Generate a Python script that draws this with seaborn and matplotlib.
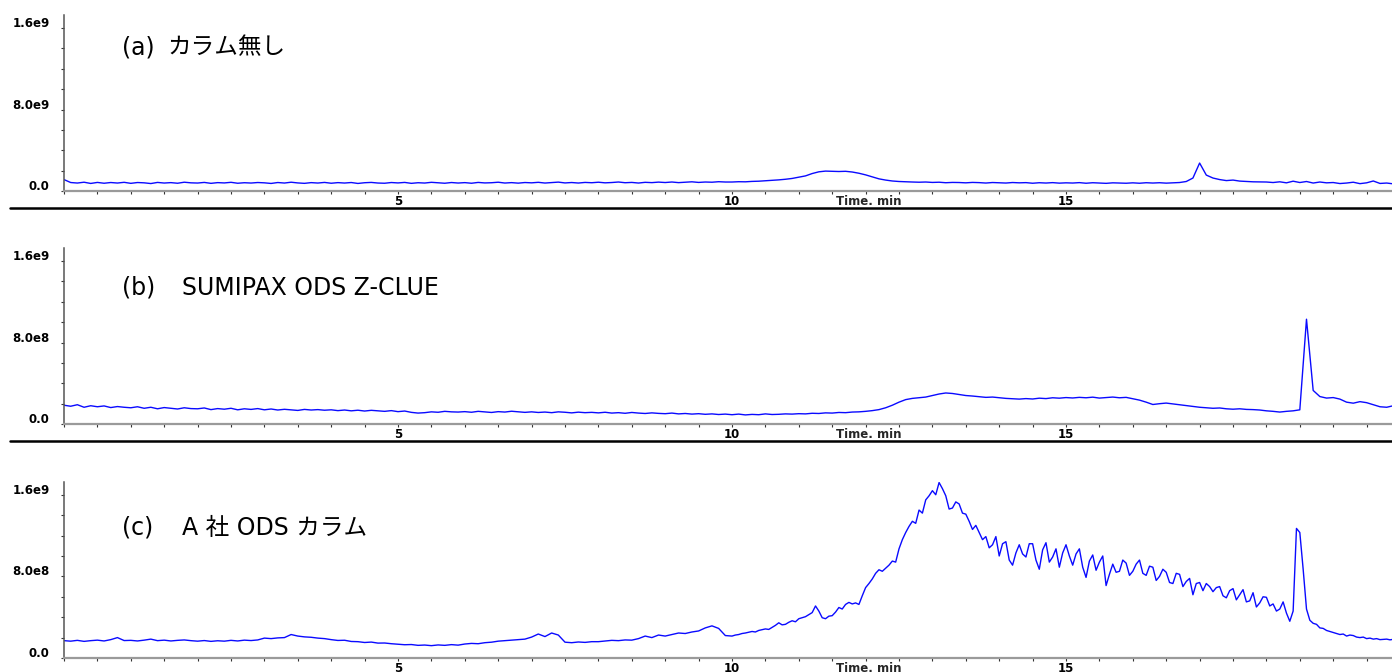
import numpy as np
import pandas as pd
import matplotlib
matplotlib.use("Agg")
import matplotlib.pyplot as plt
from matplotlib.lines import Line2D
from matplotlib.transforms import ScaledTranslation
from matplotlib.ticker import FixedLocator, FixedFormatter, MultipleLocator
import seaborn as sns

# Retention-time sampling: 0.1 min steps from 0.0 to 19.9 min
TIME_STEP = 0.1
N_POINTS = 200
# the A-column trace is sampled at 0.05 min from 10 min onwards
FINE_START = 10.0
FINE_STEP = 0.05
N_FINE = 200

# Detector intensity in units of 1e8 counts, one row per minute
no_column = [
    1.15, 0.86, 0.81, 0.89, 0.77, 0.87, 0.79, 0.86, 0.81, 0.88,
    0.78, 0.86, 0.83, 0.76, 0.87, 0.81, 0.85, 0.79, 0.89, 0.83,
    0.81, 0.87, 0.78, 0.85, 0.82, 0.88, 0.79, 0.84, 0.81, 0.86,
    0.83, 0.77, 0.86, 0.81, 0.89, 0.82, 0.78, 0.85, 0.81, 0.87,
    0.79, 0.85, 0.81, 0.86, 0.77, 0.84, 0.87, 0.81, 0.79, 0.86,
    0.82, 0.87, 0.78, 0.84, 0.81, 0.88, 0.83, 0.79, 0.86, 0.81,
    0.85, 0.79, 0.87, 0.82, 0.84, 0.89, 0.81, 0.85, 0.80, 0.86,
    0.83, 0.88, 0.81, 0.85, 0.90, 0.82, 0.86, 0.81, 0.87, 0.84,
    0.89, 0.83, 0.86, 0.91, 0.84, 0.87, 0.81, 0.88, 0.85, 0.90,
    0.86, 0.91, 0.85, 0.89, 0.93, 0.87, 0.91, 0.89, 0.94, 0.91,
    0.91, 0.94, 0.93, 0.97, 0.99, 1.03, 1.06, 1.12, 1.18, 1.26,
    1.38, 1.51, 1.74, 1.91, 1.98, 1.96, 1.94, 1.96, 1.89, 1.77,
    1.61, 1.42, 1.22, 1.10, 1.01, 0.96, 0.93, 0.91, 0.89, 0.91,
    0.87, 0.89, 0.84, 0.87, 0.86, 0.83, 0.87, 0.85, 0.81, 0.86,
    0.84, 0.81, 0.86, 0.83, 0.85, 0.79, 0.84, 0.81, 0.85, 0.80,
    0.83, 0.81, 0.85, 0.79, 0.84, 0.81, 0.78, 0.83, 0.81, 0.79,
    0.83, 0.79, 0.84, 0.81, 0.84, 0.80, 0.83, 0.86, 0.96, 1.30,
    2.77, 1.59, 1.30, 1.15, 1.05, 1.10, 1.00, 0.96, 0.93, 0.92,
    0.91, 0.86, 0.93, 0.83, 0.99, 0.86, 0.96, 0.81, 0.91, 0.83,
    0.86, 0.76, 0.81, 0.89, 0.75, 0.83, 1.01, 0.77, 0.81, 0.73,
]

sumipax_ods = [
    1.87, 1.77, 1.92, 1.67, 1.82, 1.72, 1.80, 1.64, 1.74, 1.67,
    1.62, 1.72, 1.57, 1.67, 1.52, 1.64, 1.57, 1.50, 1.62, 1.54,
    1.52, 1.60, 1.44, 1.54, 1.48, 1.57, 1.42, 1.52, 1.46, 1.54,
    1.42, 1.50, 1.40, 1.47, 1.42, 1.36, 1.46, 1.40, 1.44, 1.38,
    1.42, 1.34, 1.40, 1.32, 1.38, 1.30, 1.37, 1.32, 1.27, 1.34,
    1.24, 1.30, 1.17, 1.10, 1.14, 1.22, 1.18, 1.27, 1.22, 1.20,
    1.24, 1.18, 1.27, 1.22, 1.16, 1.24, 1.20, 1.28, 1.22, 1.17,
    1.22, 1.16, 1.20, 1.14, 1.22, 1.18, 1.12, 1.19, 1.14, 1.17,
    1.12, 1.18, 1.10, 1.14, 1.08, 1.16, 1.10, 1.06, 1.12, 1.07,
    1.04, 1.10, 1.02, 1.06, 1.00, 1.04, 0.98, 1.02, 0.96, 1.00,
    0.94, 1.00, 0.92, 0.97, 0.94, 1.02, 0.96, 0.98, 1.02, 1.00,
    1.04, 1.02, 1.08, 1.06, 1.12, 1.10, 1.16, 1.14, 1.20, 1.22,
    1.27, 1.34, 1.44, 1.62, 1.87, 2.17, 2.42, 2.54, 2.60, 2.67,
    2.82, 2.97, 3.07, 3.02, 2.92, 2.82, 2.77, 2.70, 2.64, 2.67,
    2.60, 2.54, 2.50, 2.47, 2.52, 2.48, 2.56, 2.52, 2.60, 2.56,
    2.62, 2.58, 2.64, 2.60, 2.66, 2.57, 2.62, 2.67, 2.60, 2.64,
    2.50, 2.37, 2.17, 1.94, 2.02, 2.08, 2.00, 1.92, 1.84, 1.77,
    1.67, 1.62, 1.57, 1.60, 1.52, 1.48, 1.52, 1.46, 1.44, 1.40,
    1.32, 1.27, 1.20, 1.27, 1.32, 1.42, 10.30, 3.32, 2.72, 2.57,
    2.62, 2.47, 2.17, 2.07, 2.22, 2.12, 1.92, 1.72, 1.67, 1.82,
]

# A-column trace, 0.0-9.9 min (0.1 min steps)
company_a_ods_early = [
    1.70, 1.65, 1.73, 1.63, 1.70, 1.75, 1.67, 1.80, 2.00, 1.71,
    1.73, 1.67, 1.75, 1.85, 1.70, 1.75, 1.67, 1.73, 1.77, 1.70,
    1.65, 1.71, 1.63, 1.69, 1.65, 1.73, 1.67, 1.75, 1.71, 1.77,
    1.95, 1.90, 1.97, 2.00, 2.30, 2.15, 2.07, 2.03, 1.95, 1.90,
    1.80, 1.72, 1.74, 1.62, 1.60, 1.52, 1.56, 1.46, 1.47, 1.40,
    1.35, 1.30, 1.32, 1.24, 1.27, 1.21, 1.28, 1.24, 1.31, 1.26,
    1.37, 1.43, 1.40, 1.50, 1.55, 1.65, 1.70, 1.75, 1.80, 1.85,
    2.05, 2.35, 2.10, 2.45, 2.25, 1.55, 1.50, 1.57, 1.53, 1.60,
    1.60, 1.67, 1.73, 1.70, 1.77, 1.75, 1.90, 2.15, 2.00, 2.25,
    2.15, 2.30, 2.45, 2.40, 2.55, 2.65, 2.95, 3.15, 2.90, 2.20,
]

# A-column trace, 10.00-19.95 min (0.05 min steps)
company_a_ods_late = [
    2.15, 2.25, 2.30, 2.40, 2.45, 2.52, 2.60, 2.55, 2.70, 2.78,
    2.85, 2.80, 3.00, 3.20, 3.45, 3.25, 3.30, 3.50, 3.65, 3.55,
    3.85, 3.95, 4.05, 4.25, 4.45, 5.10, 4.60, 3.95, 3.85, 4.10,
    4.15, 4.50, 4.95, 4.80, 5.25, 5.45, 5.30, 5.40, 5.25, 6.10,
    6.90, 7.30, 7.75, 8.30, 8.65, 8.50, 8.80, 9.10, 9.50, 9.40,
    10.70, 11.60, 12.30, 12.90, 13.40, 13.20, 14.50, 14.20, 15.50, 15.90,
    16.40, 16.00, 17.20, 16.60, 15.90, 14.60, 14.70, 15.30, 15.10, 14.20,
    14.10, 13.40, 12.60, 13.00, 12.30, 11.60, 11.90, 10.80, 11.10, 11.90,
    10.00, 11.20, 11.40, 9.60, 9.10, 10.30, 11.10, 10.20, 9.90, 11.20,
    11.20, 9.60, 8.70, 10.60, 11.30, 9.40, 9.90, 10.70, 8.90, 10.30,
    11.10, 10.00, 9.10, 10.20, 10.70, 8.90, 7.90, 9.50, 10.10, 8.60,
    9.40, 10.00, 7.10, 8.20, 9.20, 8.40, 8.50, 9.60, 9.30, 8.10,
    8.50, 9.20, 9.60, 8.30, 8.10, 9.00, 8.90, 7.60, 8.00, 8.70,
    8.40, 7.40, 7.30, 8.30, 8.20, 7.00, 7.50, 7.80, 6.20, 7.30,
    7.40, 6.60, 7.30, 7.00, 6.50, 6.90, 7.00, 6.10, 5.90, 6.60,
    6.80, 5.70, 6.20, 6.70, 5.50, 5.60, 6.40, 5.00, 5.40, 6.00,
    5.95, 5.10, 5.30, 4.60, 4.80, 5.50, 4.40, 3.60, 4.60, 12.70,
    12.30, 8.70, 4.80, 3.70, 3.40, 3.30, 2.95, 2.90, 2.70, 2.60,
    2.50, 2.40, 2.30, 2.35, 2.15, 2.25, 2.20, 2.05, 2.00, 2.05,
    1.90, 1.95, 1.85, 1.90, 1.80, 1.82, 1.85, 1.78, 1.83, 1.80,
]

INTENSITY_UNIT = 1e8

PANEL_LABELS = ["(a)", "(b)", "(c)"]
PANEL_NAMES = ["カラム無し", "SUMIPAX ODS Z-CLUE", "A 社 ODS カラム"]

Y_TICKS = [0.0, 8.0e8, 1.6e9]
Y_TICK_LABELS = [
    ["0.0", "8.0e9", "1.6e9"],
    ["0.0", "8.0e8", "1.6e9"],
    ["0.0", "8.0e8", "1.6e9"],
]
X_TICKS = [5, 10, 15]
X_TICK_LABELS = ["5", "10", "15"]
X_AXIS_LABEL = "Time. min"
X_AXIS_LABEL_AT = 12.05

# ---- layout (pixels on a 1392 x 672 canvas) ----
W, H, DPI = 1392, 672, 100
AX_LEFT_PX = 64
AX_HEIGHT_PX = 176.5
AX_BOTTOM_PX = [191.3, 424.3, 658.0]
XLIM = (0.0, 19.88)
YLIM = (0.0, 1.73e9)
LABEL_X_PX = 122
NAME_X_PX = [167, 182, 182]
TITLE_Y_PX = [47, 288, 528]
TITLE_SIZE = 17
SEPARATOR_Y_PX = [207.5, 441.0]

LINE_COLOR = "#0a0aff"
TICK_FONT = dict(family="DejaVu Sans", weight="bold", size=8.5)

sns.set_style("ticks")
plt.rcParams["font.family"] = ["DejaVu Sans", "Noto Sans CJK JP"]

fig = plt.figure(figsize=(W / DPI, H / DPI), dpi=DPI)
fig.patch.set_facecolor("white")

time_grid = np.round(np.arange(N_POINTS) * TIME_STEP, 2)
time_early = time_grid[: len(company_a_ods_early)]
time_late = np.round(FINE_START + np.arange(N_FINE) * FINE_STEP, 2)

series = [
    (time_grid, np.asarray(no_column)),
    (time_grid, np.asarray(sumipax_ods)),
    (np.concatenate([time_early, time_late]),
     np.asarray(company_a_ods_early + company_a_ods_late)),
]

label_offset = ScaledTranslation(0, 6 / DPI, fig.dpi_scale_trans)

for i, (t, values) in enumerate(series):
    bottom = 1 - AX_BOTTOM_PX[i] / H
    ax = fig.add_axes([AX_LEFT_PX / W, bottom, (W - AX_LEFT_PX) / W, AX_HEIGHT_PX / H])
    ax.set_facecolor("white")

    df = pd.DataFrame({"time": t, "intensity": values * INTENSITY_UNIT})
    sns.lineplot(data=df, x="time", y="intensity", ax=ax, color=LINE_COLOR,
                 linewidth=1.0, errorbar=None, estimator=None, sort=False)

    ax.set_xlim(*XLIM)
    ax.set_ylim(*YLIM)
    ax.set_xlabel("")
    ax.set_ylabel("")

    for side in ("top", "right"):
        ax.spines[side].set_visible(False)
    ax.spines["left"].set_color("#555555")
    ax.spines["left"].set_linewidth(1.1)
    ax.spines["bottom"].set_color("#9a9a9a")
    ax.spines["bottom"].set_linewidth(1.6)

    ax.xaxis.set_major_locator(FixedLocator(X_TICKS))
    ax.xaxis.set_major_formatter(FixedFormatter(X_TICK_LABELS))
    ax.xaxis.set_minor_locator(MultipleLocator(0.5))
    ax.yaxis.set_major_locator(FixedLocator(Y_TICKS))
    ax.yaxis.set_major_formatter(FixedFormatter(Y_TICK_LABELS[i]))
    ax.yaxis.set_minor_locator(MultipleLocator(2e8))

    ax.tick_params(axis="both", which="both", direction="out", length=2.4,
                   width=0.8, color="#333333")
    ax.tick_params(axis="x", which="major", pad=0.6)
    ax.tick_params(axis="y", which="major", pad=8.0)

    for lab in ax.get_xticklabels() + ax.get_yticklabels():
        lab.set_fontfamily(TICK_FONT["family"])
        lab.set_fontweight(TICK_FONT["weight"])
        lab.set_fontsize(TICK_FONT["size"])
        lab.set_color("black")
    for lab in ax.get_yticklabels():
        lab.set_transform(lab.get_transform() + label_offset)

    ax.annotate(X_AXIS_LABEL, xy=(X_AXIS_LABEL_AT, 0), xycoords=ax.get_xaxis_transform(),
                xytext=(0, -3.0), textcoords="offset points", ha="center", va="top",
                annotation_clip=False, **TICK_FONT)

    fig.text(LABEL_X_PX / W, 1 - TITLE_Y_PX[i] / H, PANEL_LABELS[i],
             ha="left", va="center", fontsize=TITLE_SIZE, color="black",
             family=["DejaVu Sans", "Noto Sans CJK JP"])
    fig.text(NAME_X_PX[i] / W, 1 - TITLE_Y_PX[i] / H, PANEL_NAMES[i],
             ha="left", va="center", fontsize=TITLE_SIZE, color="black",
             family=["DejaVu Sans", "Noto Sans CJK JP"])

for y_px in SEPARATOR_Y_PX:
    fig.add_artist(Line2D([10 / W, 1.0], [1 - y_px / H, 1 - y_px / H],
                          transform=fig.transFigure, color="black", linewidth=1.8))

fig.savefig("out.png", dpi=DPI, facecolor="white")
